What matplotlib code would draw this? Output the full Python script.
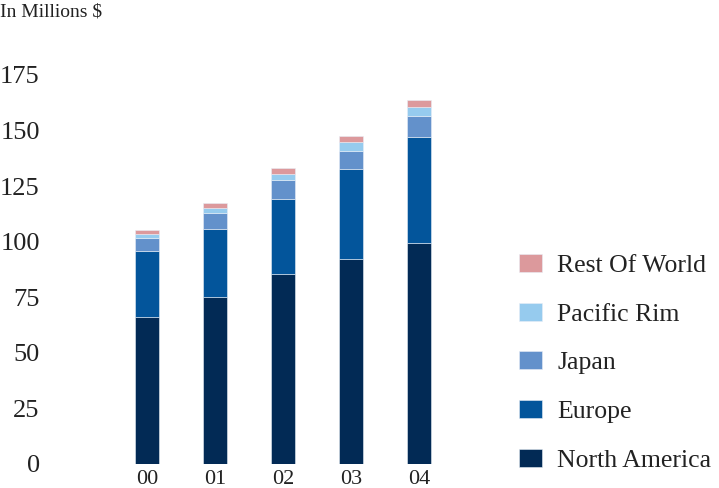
import matplotlib.pyplot as plt
import numpy as np

plt.rcParams['font.family'] = ['Liberation Serif', 'DejaVu Serif']

years = ['00', '01', '02', '03', '04']
north_america = [66.1, 75.1, 85.4, 92.0, 99.5]
europe = [29.7, 30.6, 33.9, 40.6, 47.7]
japan = [5.7, 7.3, 8.4, 8.3, 9.4]
pacific_rim = [1.8, 2.3, 2.7, 3.7, 3.8]
rest_of_world = [1.9, 2.2, 2.7, 2.9, 3.3]

series = [
    ('North America', north_america, '#022a55'),
    ('Europe', europe, '#03559b'),
    ('Japan', japan, '#6391cb'),
    ('Pacific Rim', pacific_rim, '#96cbee'),
    ('Rest Of World', rest_of_world, '#dc999c'),
]

fig = plt.figure(figsize=(7.19, 4.88), dpi=100)
W, H = 719, 488
# axes placed in pixel terms
ax = fig.add_axes([99.4 / W, 24 / H, (466.6 - 99.4) / W, (464 - 74.8) / H])

x = np.arange(len(years))
bottom = np.zeros(len(years))
handles = []
for name, vals, color in series:
    b = ax.bar(x, vals, width=0.35, bottom=bottom, color=color,
               edgecolor='#e8eef6', linewidth=0.4, label=name)
    handles.append(b)
    bottom += np.array(vals)

ax.set_xlim(-0.7, 4.7)
ax.set_ylim(0, 175)
ax.set_yticks(range(0, 176, 25))
ax.set_xticks(x)
ax.set_xticklabels(years)
for s in ax.spines.values():
    s.set_visible(False)
ax.tick_params(axis='y', length=0, pad=43, labelsize=19, colors='#222222')
ax.tick_params(axis='x', length=0, pad=4, labelsize=16, colors='#222222')
for lbl in ax.get_yticklabels():
    lbl.set_verticalalignment('center_baseline')

fig.text(0.0, 1 - 12 / H, 'In Millions $', fontsize=14, color='#222222',
         ha='left', va='center')

leg = fig.legend(handles[::-1], [s[0] for s in series][::-1],
                 loc='upper left', bbox_to_anchor=(496 / W, 1 - 231 / H),
                 frameon=False, fontsize=18.5, labelspacing=1.0,
                 handlelength=0.9, handleheight=0.7, handletextpad=0.58,
                 labelcolor='#222222')

plt.savefig('out.png', dpi=100)
